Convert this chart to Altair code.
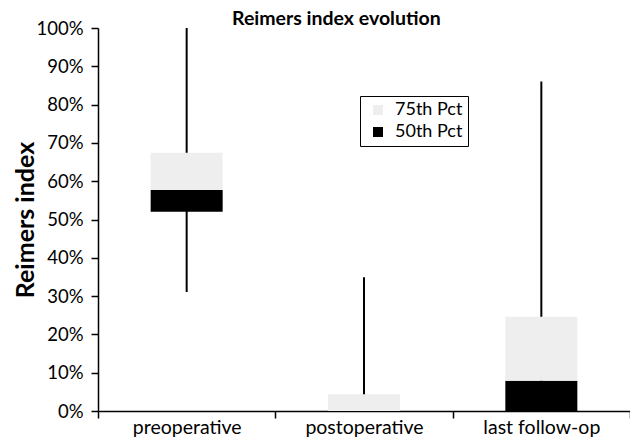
import altair as alt
import pandas as pd

categories = ["preoperative", "postoperative", "last follow-op"]
whisker_min = [0.311, 0.0, 0.0]
whisker_max = [1.0, 0.349, 0.86]
p25 = [0.52, 0.0, 0.0]
p50 = [0.577, 0.0, 0.079]
p75 = [0.674, 0.044, 0.246]
y_ticks = [0, 0.1, 0.2, 0.3, 0.4, 0.5, 0.6, 0.7, 0.8, 0.9, 1.0]
series = ["75th Pct", "50th Pct"]
colors = ["#eeeeee", "#000000"]

FONT = "Lato"

wdf = pd.DataFrame({"cat": categories, "lo": whisker_min, "hi": whisker_max})
rows = []
for i, c in enumerate(categories):
    rows.append({"cat": c, "seg": "50th Pct", "lo": p25[i], "hi": p50[i]})
    rows.append({"cat": c, "seg": "75th Pct", "lo": p50[i], "hi": p75[i]})
bdf = pd.DataFrame(rows)

xaxis = alt.Axis(
    title=None, labelAngle=0, tickBand="extent", labelFontSize=19.5,
    labelFont=FONT, labelColor="black", tickColor="black", domainColor="black",
    tickSize=7, tickWidth=1.5, domainWidth=1.5, labelPadding=0,
)
xscale = alt.Scale(domain=categories, paddingInner=0, paddingOuter=0)
yscale = alt.Scale(domain=[0, 1], nice=False)
yaxis = alt.Axis(
    title="Reimers index", format=".0%", values=y_ticks, labelFontSize=18.5,
    labelFont=FONT, labelColor="black", tickColor="black", domainColor="black",
    tickSize=7, tickWidth=1.5, domainWidth=1.5, labelPadding=8, grid=False,
    labelOverlap=False,
    titleFont=FONT, titleFontSize=25, titleFontWeight="bold", titleColor="black",
    titlePadding=-3,
)

whiskers = alt.Chart(wdf).mark_rule(color="black", strokeWidth=2).encode(
    x=alt.X("cat:N", sort=categories, scale=xscale, axis=xaxis),
    y=alt.Y("lo:Q", scale=yscale, axis=yaxis),
    y2="hi:Q",
)

boxes = alt.Chart(bdf).mark_bar(width=72).encode(
    x=alt.X("cat:N", sort=categories, scale=xscale, axis=xaxis),
    y=alt.Y("lo:Q", scale=yscale, axis=yaxis),
    y2="hi:Q",
    color=alt.Color(
        "seg:N",
        scale=alt.Scale(domain=series, range=colors),
        legend=alt.Legend(
            title=None, orient="none", legendX=262, legendY=68,
            symbolType="square", symbolSize=100, symbolStrokeWidth=0,
            symbolOffset=4,
            labelFont=FONT, labelFontSize=18, labelColor="black",
            strokeColor="black", padding=5, rowPadding=4, labelOffset=8,
        ),
    ),
)

chart = (
    alt.layer(whiskers, boxes)
    .properties(
        width=532,
        height=383,
        title=alt.TitleParams(
            "Reimers index evolution", anchor="start", frame="group", dx=134,
            fontSize=19.5, fontWeight="bold", font=FONT, color="black",
            offset=1, dy=11,
        ),
        autosize=alt.AutoSizeParams(type="none"),
        padding={"left": 90, "top": 20, "right": 0, "bottom": 27},
    )
    .configure_view(stroke=None)
)

chart.save("out.html", embed_options={"renderer": "svg", "actions": False})
